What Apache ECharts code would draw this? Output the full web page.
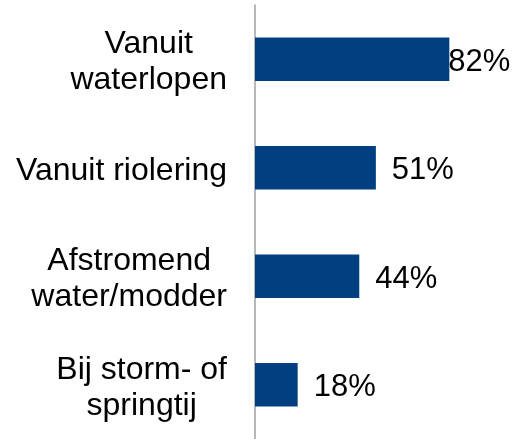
<!DOCTYPE html>
<html>
<head>
<meta charset="utf-8">
<script src="https://cdn.jsdelivr.net/npm/echarts@6/dist/echarts.min.js"></script>
<style>
  html, body { margin: 0; padding: 0; background: #fff; }
  #chart { width: 513px; height: 439px; }
</style>
</head>
<body>
<div id="chart"></div>
<script>
// categories (top to bottom) and percentages
var categories = ['Vanuit\nwaterlopen', 'Vanuit riolering', 'Afstromend\nwater/modder', 'Bij storm- of\nspringtij']
var values = [82, 51, 44, 18]

var chart = echarts.init(document.getElementById('chart'))

var seriesData = values.map(function (v, i) {
  var item = { value: v }
  // first label does not fit right of the bar, so it sits against the end
  if (i === 0) {
    item.label = { distance: -1 }
  }
  return item
})

chart.setOption({
  animation: false,
  grid: {
    left: 255,
    right: 21,
    top: 5,
    bottom: -3
  },
  xAxis: {
    type: 'value',
    min: 0,
    max: 100,
    show: false
  },
  yAxis: {
    type: 'category',
    inverse: true,
    data: categories,
    axisTick: { show: false },
    axisLine: {
      show: true,
      lineStyle: { color: '#a0a0a0', width: 1.5 }
    },
    axisLabel: {
      margin: 28,
      padding: [6, 0, 0, 0],
      formatter: function (val) {
        return val.split('\n').map(function (s) {
          return '{c|' + s + '}'
        }).join('\n')
      },
      rich: {
        c: {
          align: 'center',
          fontFamily: 'Liberation Sans, Arial, sans-serif',
          fontSize: 32,
          lineHeight: 36,
          color: '#000'
        }
      }
    }
  },
  series: [{
    type: 'bar',
    data: seriesData,
    barCategoryGap: '60%',
    itemStyle: {
      color: '#023f81'
    },
    label: {
      show: true,
      position: 'right',
      distance: 16,
      offset: [0, 3],
      formatter: '{c}%',
      fontFamily: 'Liberation Sans, Arial, sans-serif',
      fontSize: 31,
      color: '#000'
    }
  }]
})
</script>
</body>
</html>
